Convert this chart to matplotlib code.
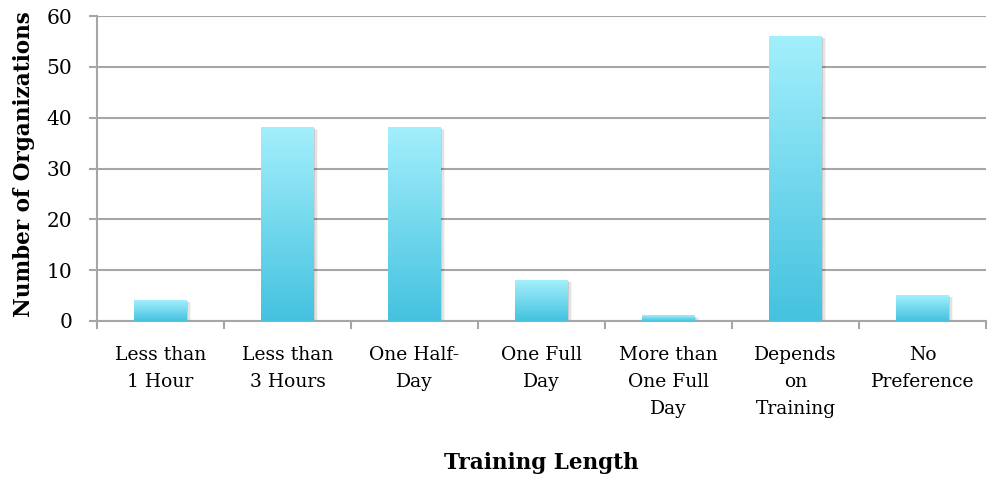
import numpy as np
import matplotlib.pyplot as plt
from matplotlib.colors import LinearSegmentedColormap
from matplotlib.patches import Rectangle

categories = ["Less than\n1 Hour", "Less than\n3 Hours", "One Half-\nDay", "One Full\nDay",
              "More than\nOne Full\nDay", "Depends\non\nTraining", "No\nPreference"]
counts = [4, 38, 38, 8, 1, 56, 5]
yticks = [0, 10, 20, 30, 40, 50, 60]

plt.rcParams['font.family'] = ['DejaVu Serif']
grid_col = '#a6a6a6'

fig = plt.figure(figsize=(9.88, 4.78), dpi=100)
ax = fig.add_axes([97/988, 1 - 321/478, (986-97)/988, (321-16)/478])

x = np.arange(len(counts))
bars = ax.bar(x, counts, width=0.41, color='none', zorder=3)

# blue gradient fill, light at the top
cmap = LinearSegmentedColormap.from_list('cyan', ['#44c2df', '#a3effc'])
grad = np.linspace(0, 1, 256).reshape(-1, 1)
for b in bars:
    x0, y0 = b.get_x(), b.get_y()
    w, h = b.get_width(), b.get_height()
    # soft drop shadow
    for i, a in enumerate([0.10, 0.07, 0.04]):
        d = 0.012 * (i + 1)
        ax.add_patch(Rectangle((x0 + d, y0), w, h - d * 10, color='#000000',
                               alpha=a, lw=0, zorder=2))
    ax.imshow(grad, extent=[x0, x0 + w, y0, y0 + h], origin='lower', cmap=cmap,
              aspect='auto', zorder=3, interpolation='bilinear')

ax.set_xlim(-0.5, len(counts) - 0.5)
ax.set_ylim(0, 60)
ax.set_yticks(yticks)
ax.yaxis.grid(True, color=grid_col, lw=1.5, zorder=1)
ax.set_axisbelow(True)

ax.set_xticks(x)
ax.set_xticklabels(categories, fontsize=13.5, linespacing=1.65)
ax.set_xticks(np.arange(len(counts) + 1) - 0.5, minor=True)
ax.tick_params(axis='x', which='major', length=0, pad=18)
ax.tick_params(axis='x', which='minor', length=6, width=1.5, color=grid_col)
ax.tick_params(axis='y', length=6, width=1.5, color=grid_col, labelsize=14.5, pad=12)

for s in ['top', 'right']:
    ax.spines[s].set_visible(False)
for s in ['left', 'bottom']:
    ax.spines[s].set_color(grid_col)
    ax.spines[s].set_linewidth(1.5)

ax.set_xlabel('Training Length', fontsize=15.5, fontweight='bold', labelpad=24)
ax.set_ylabel('Number of Organizations', fontsize=15.5, fontweight='bold')
ax.yaxis.set_label_coords(-0.07, 0.515)

fig.savefig('out.png', dpi=100)
